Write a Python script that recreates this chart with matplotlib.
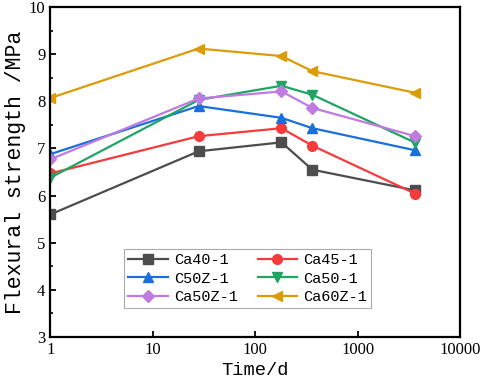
import matplotlib.pyplot as plt
import numpy as np

days = [1, 28, 180, 360, 3650]
labels = ['Ca40-1', 'Ca45-1', 'C50Z-1', 'Ca50-1', 'Ca50Z-1', 'Ca60Z-1']
ca40 = [5.60, 6.94, 7.13, 6.55, 6.11]
ca45 = [6.47, 7.26, 7.43, 7.06, 6.04]
c50z = [6.88, 7.90, 7.65, 7.43, 6.96]
ca50 = [6.38, 8.03, 8.33, 8.14, 7.12]
ca50z = [6.77, 8.06, 8.21, 7.86, 7.26]
ca60z = [8.07, 9.12, 8.96, 8.64, 8.18]
all_data = [ca40, ca45, c50z, ca50, ca50z, ca60z]

colors = ['#4d4d4d', '#f53b3b', '#1a6fdf', '#1fa563', '#c07be0', '#dc9c08']
markers = ['s', 'o', '^', 'v', 'D', '<']
msizes = [6.5, 7, 7, 7, 6, 7]

fig, ax = plt.subplots(figsize=(4.84, 3.91), dpi=100)
fig.subplots_adjust(left=0.104, right=0.951, top=0.982, bottom=0.138)

lines = []
for i, data in enumerate(all_data):
    ln, = ax.plot(days, data, label=labels[i], color=colors[i], marker=markers[i],
                  markersize=msizes[i], linewidth=1.6)
    lines.append(ln)

ax.set_xscale('log')
ax.set_xlim(1, 10000)
ax.set_ylim(3, 10)
ax.set_xticks([1, 10, 100, 1000, 10000])
ax.set_xticklabels(['1', '10', '100', '1000', '10000'])
ax.xaxis.set_minor_locator(plt.NullLocator())
ax.set_yticks([3, 4, 5, 6, 7, 8, 9, 10])
ax.set_yticks(np.arange(3.5, 10, 1.0), minor=True)

ax.tick_params(which='major', direction='in', length=4, width=1.3, labelsize=12)
ax.tick_params(which='minor', direction='in', length=2.5, width=1.2)
for label in ax.get_xticklabels() + ax.get_yticklabels():
    label.set_fontfamily('Liberation Serif')
for sp in ax.spines.values():
    sp.set_linewidth(1.6)

ax.set_xlabel('Time/d', fontfamily='Liberation Mono', fontsize=13.5, labelpad=3)
ax.set_ylabel('Flexural strength /MPa', fontfamily='Liberation Mono', fontsize=15.5, labelpad=2)

# row-wise order like the original (matplotlib fills columns first)
order = [0, 2, 4, 1, 3, 5]
legend = ax.legend([lines[k] for k in order], [labels[k] for k in order],
                   ncol=2, loc='lower left', bbox_to_anchor=(0.18, 0.088),
                   borderaxespad=0,
                   prop={'family': 'Liberation Mono', 'size': 11},
                   fancybox=False, edgecolor='#aaaaaa', framealpha=1,
                   handlelength=2.6, columnspacing=1.3, labelspacing=0.3,
                   borderpad=0.25, handletextpad=0.4)
legend.get_frame().set_linewidth(0.8)

plt.savefig('out.png', dpi=100)
